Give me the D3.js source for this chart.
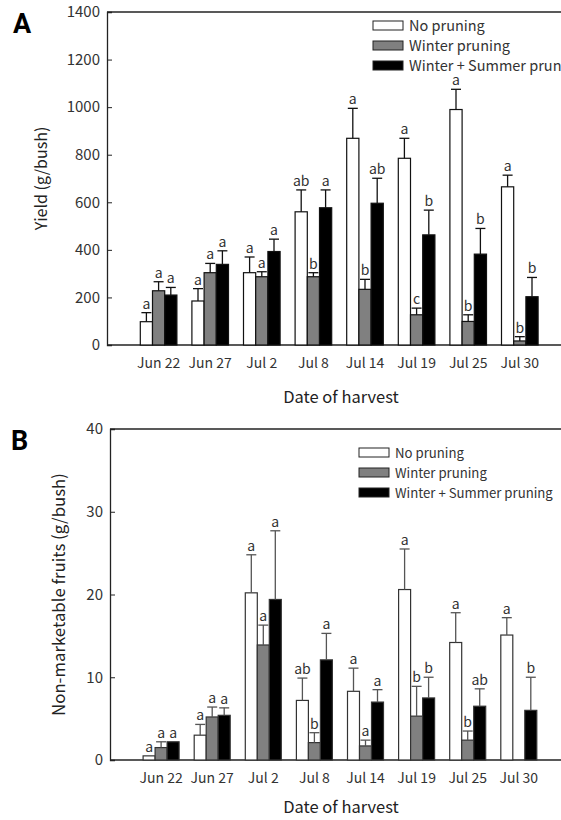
<!DOCTYPE html>
<html>
<head>
<meta charset="utf-8">
<script src="https://cdn.jsdelivr.net/npm/d3@7"></script>
<style>
  body { margin: 0; background: #fff; }
  svg text { font-family: "Noto Sans CJK KR", "Noto Sans", sans-serif; fill: #222; }
</style>
</head>
<body>
<div id="chart"></div>
<script>
/// DATA ///
const dates = ["Jun 22", "Jun 27", "Jul 2", "Jul 8", "Jul 14", "Jul 19", "Jul 25", "Jul 30"];
const treatments = ["No pruning", "Winter pruning", "Winter + Summer pruning"];

// Panel A: yield (g/bush)
const yieldNo = [98, 185, 304, 560, 869, 785, 990, 665];
const yieldNoErr = [38, 52, 66, 92, 126, 84, 85, 49];
const yieldWinter = [228, 304, 287, 287, 234, 127, 99, 17];
const yieldWinterErr = [38, 39, 21, 17, 42, 28, 28, 18];
const yieldSummer = [210, 339, 393, 577, 596, 463, 382, 203];
const yieldSummerErr = [32, 57, 52, 75, 105, 104, 108, 81];
const yieldLetters = [
  ["a", "a", "a"], ["a", "a", "a"], ["a", "a", "a"], ["ab", "b", "a"],
  ["a", "b", "ab"], ["a", "c", "b"], ["a", "b", "b"], ["a", "b", "b"],
];
const yieldTicks = [0, 200, 400, 600, 800, 1000, 1200, 1400];

// Panel B: non-marketable fruits (g/bush)
const nmNo = [0.5, 3.0, 20.2, 7.2, 8.3, 20.6, 14.2, 15.1];
const nmNoErr = [0, 1.3, 4.6, 2.7, 2.8, 4.9, 3.6, 2.1];
const nmWinter = [1.5, 5.2, 13.9, 2.1, 1.7, 5.3, 2.4, 0];
const nmWinterErr = [0.7, 1.2, 2.4, 1.2, 0.7, 3.6, 1.1, 0];
const nmSummer = [2.2, 5.4, 19.4, 12.1, 7.0, 7.5, 6.5, 6.0];
const nmSummerErr = [0, 0.9, 8.3, 3.2, 1.5, 2.5, 2.1, 4.0];
const nmLetters = [
  ["a", "a", "a"], ["a", "a", "a"], ["a", "a", "a"], ["ab", "b", "a"],
  ["a", "a", "a"], ["a", "b", "b"], ["a", "b", "ab"], ["a", "", "b"],
];
const nmTicks = [0, 10, 20, 30, 40];

const fills = ["#ffffff", "#808080", "#000000"];

const svg = d3
  .select("#chart")
  .append("svg")
  .attr("width", 561)
  .attr("height", 820);

function toRows(vals, errs, letters) {
  return dates.map((d, i) => ({
    date: d,
    bars: vals.map((v, k) => ({ k: k, value: v[i], err: errs[k][i], letter: letters[i][k] })),
  }));
}

function drawPanel(opt) {
  const g = svg.append("g");
  const left = opt.left, top = opt.top, bottom = opt.bottom;

  // group centres, one empty slot before the first date
  const x = d3
    .scalePoint()
    .domain(dates)
    .range([left + opt.step, left + dates.length * opt.step]);

  const sub = d3.scaleBand().domain([0, 1, 2]).range([-opt.barW * 1.5, opt.barW * 1.5]);

  const y = d3.scaleLinear().domain([0, opt.max]).range([bottom, top]);

  // frame top line
  g.append("line")
    .attr("x1", left).attr("x2", 561)
    .attr("y1", top).attr("y2", top)
    .attr("stroke", "#222").attr("stroke-width", 1.3);

  // y axis
  const yAxis = g.append("g")
    .attr("transform", `translate(${left},0)`)
    .call(d3.axisRight(y).tickValues(opt.ticks).tickSize(5).tickFormat(d3.format("d")));
  yAxis.select(".domain").attr("stroke", "#222").attr("stroke-width", 1.3);
  yAxis.selectAll(".tick line").attr("stroke", "#222");
  yAxis.selectAll(".tick text")
    .attr("x", -7)
    .attr("text-anchor", "end")
    .attr("font-size", 15)
    .style("fill", "#333");

  // x axis
  g.append("line")
    .attr("x1", left).attr("x2", 561)
    .attr("y1", bottom).attr("y2", bottom)
    .attr("stroke", "#222").attr("stroke-width", 1.3);

  g.selectAll(".xlab")
    .data(dates)
    .enter()
    .append("text")
    .attr("x", (d) => x(d))
    .attr("y", bottom + 23)
    .attr("text-anchor", "middle")
    .attr("font-size", 14)
    .style("fill", "#333")
    .text((d) => d);

  const groups = g.selectAll(".grp")
    .data(opt.rows)
    .enter()
    .append("g")
    .attr("transform", (d) => `translate(${x(d.date)},0)`);

  const bars = groups.selectAll(".bar")
    .data((d) => d.bars)
    .enter()
    .append("g");

  bars.filter((d) => d.value > 0)
    .append("rect")
    .attr("x", (d) => sub(d.k))
    .attr("width", sub.bandwidth())
    .attr("y", (d) => y(d.value))
    .attr("height", (d) => bottom - y(d.value))
    .attr("fill", (d) => fills[d.k])
    .attr("stroke", opt.barStroke)
    .attr("stroke-width", 1.2);

  // error bars (upper only)
  const eb = bars.filter((d) => d.err > 0);
  eb.append("line")
    .attr("x1", (d) => sub(d.k) + sub.bandwidth() / 2)
    .attr("x2", (d) => sub(d.k) + sub.bandwidth() / 2)
    .attr("y1", (d) => y(d.value))
    .attr("y2", (d) => y(d.value + d.err))
    .attr("stroke", opt.errColor).attr("stroke-width", 1.3);
  eb.append("line")
    .attr("x1", (d) => sub(d.k) + sub.bandwidth() / 2 - 5)
    .attr("x2", (d) => sub(d.k) + sub.bandwidth() / 2 + 5)
    .attr("y1", (d) => y(d.value + d.err))
    .attr("y2", (d) => y(d.value + d.err))
    .attr("stroke", opt.errColor).attr("stroke-width", 1.3);

  bars.append("text")
    .attr("x", (d) => sub(d.k) + sub.bandwidth() / 2)
    .attr("y", (d) => y(d.value + d.err) - 4)
    .attr("text-anchor", "middle")
    .attr("font-size", 14)
    .style("fill", "#333")
    .text((d) => d.letter);

  // axis titles
  g.append("text")
    .attr("transform", `translate(${opt.yTitleX},${(top + bottom) / 2}) rotate(-90)`)
    .attr("text-anchor", "middle")
    .attr("font-size", opt.yTitleSize)
    .text(opt.yTitle);

  g.append("text")
    .attr("x", 341)
    .attr("y", bottom + opt.xTitleDy)
    .attr("text-anchor", "middle")
    .attr("font-size", 16.5)
    .text("Date of harvest");

  // panel letter
  g.append("text")
    .attr("x", opt.labelX)
    .attr("y", top + 21)
    .attr("font-size", 27)
    .attr("font-weight", "bold")
    .style("font-family", "Roboto, 'Noto Sans', sans-serif")
    .style("fill", "#000")
    .text(opt.label);

  // legend
  const leg = g.selectAll(".leg")
    .data(treatments)
    .enter()
    .append("g")
    .attr("transform", (d, i) => `translate(${opt.legX},${opt.legY + i * 20})`);
  leg.append("rect")
    .attr("x", 0).attr("y", -5)
    .attr("width", 30).attr("height", 9)
    .attr("fill", (d, i) => fills[i])
    .attr("stroke", "#222").attr("stroke-width", 1);
  leg.append("text")
    .attr("x", 36).attr("y", 0)
    .attr("dy", "0.35em")
    .attr("font-size", opt.legSize)
    .style("fill", "#333")
    .text((d) => d);
}

drawPanel({
  rows: toRows([yieldNo, yieldWinter, yieldSummer], [yieldNoErr, yieldWinterErr, yieldSummerErr], yieldLetters),
  left: 107, top: 12, bottom: 345, step: 51.6, barW: 12.2,
  max: 1400, ticks: yieldTicks,
  yTitle: "Yield (g/bush)", yTitleX: 47, yTitleSize: 16,
  xTitleDy: 58,
  label: "A", labelX: 13,
  legX: 373, legY: 26, legSize: 14.5,
  barStroke: "#111", errColor: "#111",
});

drawPanel({
  rows: toRows([nmNo, nmWinter, nmSummer], [nmNoErr, nmWinterErr, nmSummerErr], nmLetters),
  left: 110, top: 429, bottom: 760, step: 51.1, barW: 12,
  max: 40, ticks: nmTicks,
  yTitle: "Non-marketable fruits (g/bush)", yTitleX: 65, yTitleSize: 16.8,
  xTitleDy: 53,
  label: "B", labelX: 11,
  legX: 359, legY: 453, legSize: 13.2,
  barStroke: "#333", errColor: "#555",
});
</script>
</body>
</html>
